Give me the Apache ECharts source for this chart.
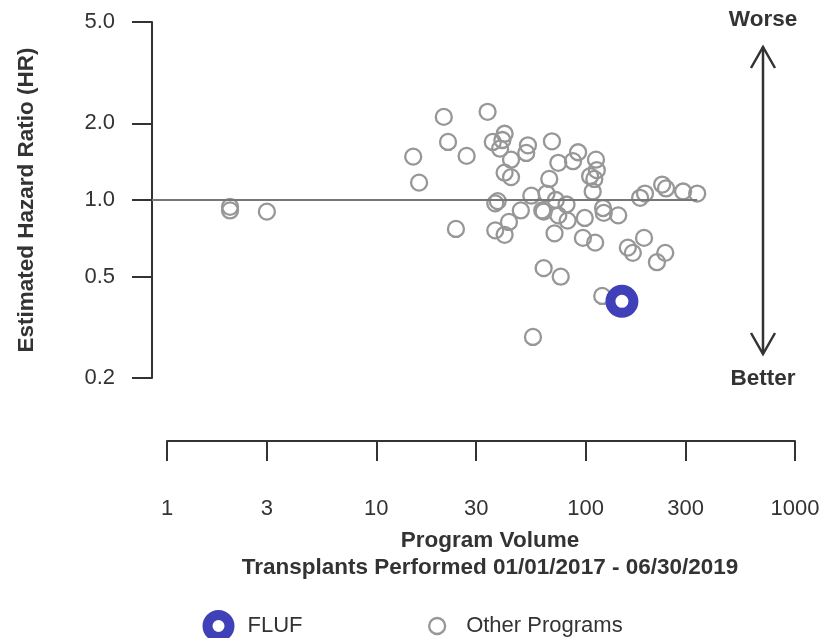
<!DOCTYPE html>
<html><head><meta charset="utf-8">
<script src="https://cdn.jsdelivr.net/npm/echarts@6/dist/echarts.min.js"></script>
<style>html,body{margin:0;padding:0;background:#fff}#c{width:831px;height:638px}</style>
</head><body><div id="c"></div>
<script>
// ---- data ----
const otherVolume = [2, 2, 3, 15, 16, 21, 22, 24, 27, 34, 36, 37, 38, 40, 41, 39, 37, 41, 41, 43, 44, 44, 49, 52, 53, 56, 55, 62, 63, 63, 65, 67, 69, 71, 72, 74, 76, 74, 81, 82, 87, 92, 97, 99, 105, 110, 108, 111, 112, 113, 120, 121, 122, 143, 159, 168, 182, 192, 190, 219, 240, 232, 242, 292, 341];
const otherHR =     [0.94, 0.91, 0.90, 1.48, 1.17, 2.12, 1.69, 0.77, 1.49, 2.22, 1.69, 0.97, 0.99, 1.72, 1.82, 1.59, 0.76, 1.28, 0.73, 0.82, 1.44, 1.23, 0.91, 1.53, 1.64, 0.29, 1.04, 0.91, 0.90, 0.54, 1.06, 1.21, 1.70, 0.74, 1.00, 1.40, 0.50, 0.87, 0.96, 0.83, 1.42, 1.54, 0.71, 0.85, 1.24, 1.21, 1.08, 0.68, 1.44, 1.31, 0.42, 0.93, 0.89, 0.87, 0.65, 0.62, 1.02, 1.06, 0.71, 0.57, 0.62, 1.15, 1.11, 1.08, 1.06];
const flufVolume = [149];
const flufHR = [0.40];
const xTickValues = [1, 3, 10, 30, 100, 300, 1000];
const yTickValues = [0.2, 0.5, 1, 2, 5];
const referenceHR = 1;
const seriesNames = ['FLUF', 'Other Programs'];
const xTitle = 'Program Volume';
const xSubTitle = 'Transplants Performed 01/01/2017 - 06/30/2019';
const yTitle = 'Estimated Hazard Ratio (HR)';
const topNote = 'Worse';
const bottomNote = 'Better';

// ---- chart ----
const FONT = '"Liberation Sans", Arial, sans-serif';
const TXT = '#333333';
const GRAY = '#979797';
const BLUE = '#4040b8';
const mainXMin = 0.8478; // the y axis sits slightly left of volume 1

const chart = echarts.init(document.getElementById('c'));
const otherData = otherVolume.map((v, i) => [v, otherHR[i]]);
const flufData = flufVolume.map((v, i) => [v, flufHR[i]]);

chart.setOption({
  animation: false,
  textStyle: { fontFamily: FONT },
  grid: [
    { left: 152, right: 36, top: 22, height: 356 },
    { left: 167, right: 36, top: 440, height: 1 }
  ],
  xAxis: [
    { gridIndex: 0, type: 'log', min: mainXMin, max: 1000, show: false },
    { gridIndex: 1, type: 'log', min: 1, max: 1000, position: 'bottom',
      axisLine: { show: true, lineStyle: { color: TXT, width: 2 } },
      axisTick: { show: true, length: 20, lineStyle: { color: TXT, width: 2 }, customValues: xTickValues },
      axisLabel: { show: true, customValues: xTickValues, margin: 57, fontSize: 22, color: TXT, fontFamily: FONT,
        formatter: v => String(Math.round(v)) },
      splitLine: { show: false }
    }
  ],
  yAxis: [
    { gridIndex: 0, type: 'log', min: 0.2, max: 5,
      axisLine: { show: true, lineStyle: { color: TXT, width: 2 } },
      axisTick: { show: true, length: 20, lineStyle: { color: TXT, width: 2 }, customValues: yTickValues },
      axisLabel: { show: true, customValues: yTickValues, margin: 37, fontSize: 22, color: TXT, fontFamily: FONT,
        formatter: v => Number(v).toFixed(1) },
      splitLine: { show: false },
      name: yTitle, nameLocation: 'middle', nameRotate: 90, nameGap: 114,
      nameTextStyle: { fontSize: 22.5, fontWeight: 'bold', color: TXT, fontFamily: FONT }
    },
    { gridIndex: 1, type: 'value', show: false }
  ],
  title: {
    text: xTitle, subtext: xSubTitle, left: 490, top: 529, textAlign: 'center', padding: 0, itemGap: 4,
    textStyle: { fontSize: 22.5, fontWeight: 'bold', color: TXT, fontFamily: FONT },
    subtextStyle: { fontSize: 22.5, fontWeight: 'bold', color: TXT, fontFamily: FONT }
  },
  legend: [
    { data: [seriesNames[0]], left: 202.5, top: 610, itemWidth: 22, itemHeight: 22, icon: 'circle', padding: 0,
      itemStyle: { color: '#ffffff', borderColor: BLUE, borderWidth: 10 },
      textStyle: { fontSize: 22, color: TXT, fontFamily: FONT, padding: [0, 0, 0, 13] }, selectedMode: false },
    { data: [seriesNames[1]], left: 428, top: 615, itemWidth: 16, itemHeight: 16, icon: 'circle', padding: 0,
      itemStyle: { color: 'rgba(0,0,0,0)', borderColor: GRAY, borderWidth: 2.3 },
      textStyle: { fontSize: 22, color: TXT, fontFamily: FONT, padding: [0, 0, 0, 16] }, selectedMode: false }
  ],
  series: [
    { name: seriesNames[1], type: 'scatter', xAxisIndex: 0, yAxisIndex: 0, data: otherData,
      symbol: 'circle', symbolSize: 16,
      itemStyle: { color: 'rgba(0,0,0,0)', borderColor: GRAY, borderWidth: 2.3, opacity: 1 },
      markLine: { silent: true, symbol: ['none', 'none'], label: { show: false },
        lineStyle: { color: '#777777', width: 2, type: 'solid' },
        data: [[{ coord: [mainXMin, referenceHR] }, { coord: [Math.max(...otherVolume), referenceHR] }]] },
      z: 3 },
    { name: seriesNames[0], type: 'scatter', xAxisIndex: 0, yAxisIndex: 0, data: flufData,
      symbol: 'circle', symbolSize: 23,
      itemStyle: { color: '#ffffff', borderColor: BLUE, borderWidth: 10, opacity: 1 }, z: 5 }
  ],
  graphic: [
    { type: 'text', x: 763, y: 20, style: { text: topNote, fill: TXT, font: 'bold 22.5px ' + FONT, textAlign: 'center', textVerticalAlign: 'middle' } },
    { type: 'text', x: 763, y: 379, style: { text: bottomNote, fill: TXT, font: 'bold 22.5px ' + FONT, textAlign: 'center', textVerticalAlign: 'middle' } },
    { type: 'line', shape: { x1: 763, y1: 47, x2: 763, y2: 354 }, style: { stroke: TXT, lineWidth: 2.5 } },
    { type: 'polyline', shape: { points: [[751, 68], [763, 47], [775, 68]] }, style: { stroke: TXT, lineWidth: 2.5, fill: null } },
    { type: 'polyline', shape: { points: [[751, 333], [763, 354], [775, 333]] }, style: { stroke: TXT, lineWidth: 2.5, fill: null } }
  ]
});
</script>
</body></html>
